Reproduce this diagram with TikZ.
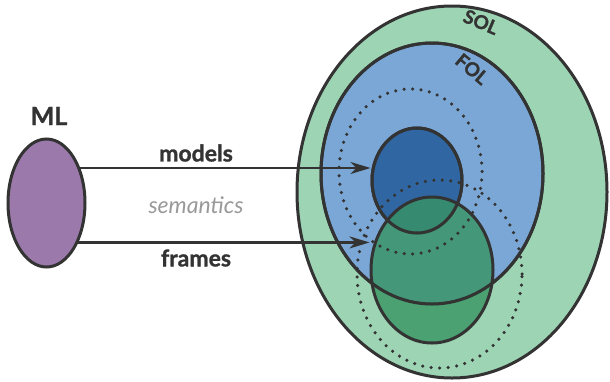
\documentclass[tikz,border=0pt]{standalone}
\usepackage{fontspec}
\setmainfont{Lato}[BoldFeatures={FakeBold=1.2}]
\usetikzlibrary{shapes.geometric,arrows.meta}
\definecolor{linecolor}{RGB}{51,51,51}
\definecolor{mlcolor}{RGB}{155,122,171}
\definecolor{solcolor}{RGB}{157,213,180}
\definecolor{folcolor}{RGB}{122,167,213}
\definecolor{modelcolor}{RGB}{48,102,162}
\definecolor{framecolor}{RGB}{56,148,99}
\definecolor{semcolor}{RGB}{153,153,153}

\begin{document}
\begin{tikzpicture}[x=1pt, y=-1pt,
  blob/.style={ellipse, inner sep=0pt, draw=linecolor, line width=3pt},
  rim/.style={ellipse, inner sep=0pt, draw=linecolor, line width=3pt},
  dotring/.style={ellipse, inner sep=0pt, draw=linecolor, line width=3.5pt, line cap=round, dash pattern=on 0pt off 8.5pt},
  word/.style={text=linecolor, font=\bfseries\fontsize{23}{27}\selectfont},
  arr/.style={draw=linecolor, line width=2.2pt, -{Stealth[length=20pt,width=12pt,inset=6pt]}}]
  \useasboundingbox (0,0) rectangle (610,381);
  \node[blob, fill=solcolor, minimum width=310pt, minimum height=372pt] (sol) at (452,192) {};
  \node[blob, fill=folcolor, minimum width=222pt, minimum height=261pt] (fol) at (432,173.5) {};
  \node[blob, fill=modelcolor, minimum width=90pt, minimum height=105pt] (models) at (417,180.5) {};
  \node[blob, fill=framecolor, fill opacity=0.8, minimum width=122pt, minimum height=146pt] (frames) at (432,270) {};
  \node[rim, minimum width=222pt, minimum height=261pt] at (fol) {};
  \node[rim, minimum width=90pt, minimum height=105pt] at (models) {};
  \node[dotring, minimum width=143pt, minimum height=165pt] (modelring) at (410.5,171.5) {};
  \node[dotring, minimum width=165pt, minimum height=188pt] (framering) at (439.5,274) {};
  \node[blob, fill=mlcolor, minimum width=77pt, minimum height=128pt] (ML) at (46.5,203) {};
  \node[word, font=\bfseries\fontsize{25}{30}\selectfont] (mltext) at (49,116) {ML};
  \node[word] (modelstext) at (196,153) {models};
  \node[text=semcolor, font=\itshape\fontsize{23}{27}\selectfont] (semtext) at (196,205) {semantics};
  \node[word] (framestext) at (196,258) {frames};
  \node[word, font=\bfseries\fontsize{19}{22}\selectfont, rotate=-23] (soltext) at (481,22) {SOL};
  \node[word, font=\bfseries\fontsize{19}{22}\selectfont, rotate=-40] (foltext) at (472,69) {FOL};
  \draw[arr] (ML.46) -- (ML.46 -| models.west);
  \draw[arr] (ML.-51) -- (ML.-51 -| frames.west);
\end{tikzpicture}
\end{document}
